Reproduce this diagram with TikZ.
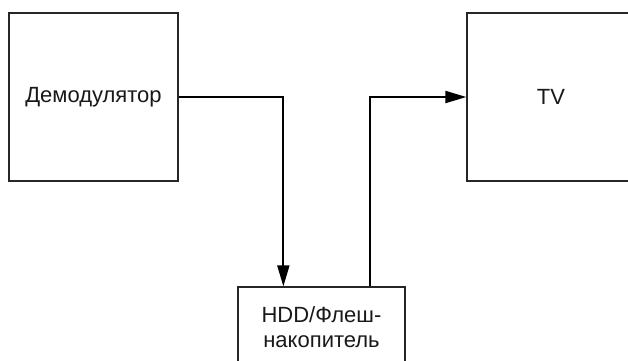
\documentclass[tikz,border=0pt]{standalone}
\usepackage{fontspec}
\setmainfont{Liberation Sans}
\usetikzlibrary{arrows.meta}
\tikzset{
  blockbox/.style={draw=black!85, line width=1.3pt, minimum width=169pt, inner sep=0pt, font=\fontsize{22}{24.5}\selectfont, text=black!90},
  conn/.style={draw=black, line width=2pt, -{Triangle[length=21pt,width=12pt]}},
}
\begin{document}
\begin{tikzpicture}[x=1pt,y=-1pt]
\useasboundingbox[clip] (0,0) rectangle (628,360);
\fill[white] (0,0) rectangle (628,360);
\node[blockbox, minimum height=168pt] (demod) at (93.5,97) {Демодулятор};
\node[blockbox, minimum width=168pt, minimum height=168pt] (tv) at (551,97) {TV};
\node[blockbox, minimum width=167pt, minimum height=80pt, align=center] (hdd) at (321.5,327) {HDD/Флеш-\\накопитель};
\draw[conn] (demod.east) -| ([xshift=46pt]hdd.north west);
\draw[conn] ([xshift=133pt]hdd.north west) |- (tv.west);
\end{tikzpicture}
\end{document}
